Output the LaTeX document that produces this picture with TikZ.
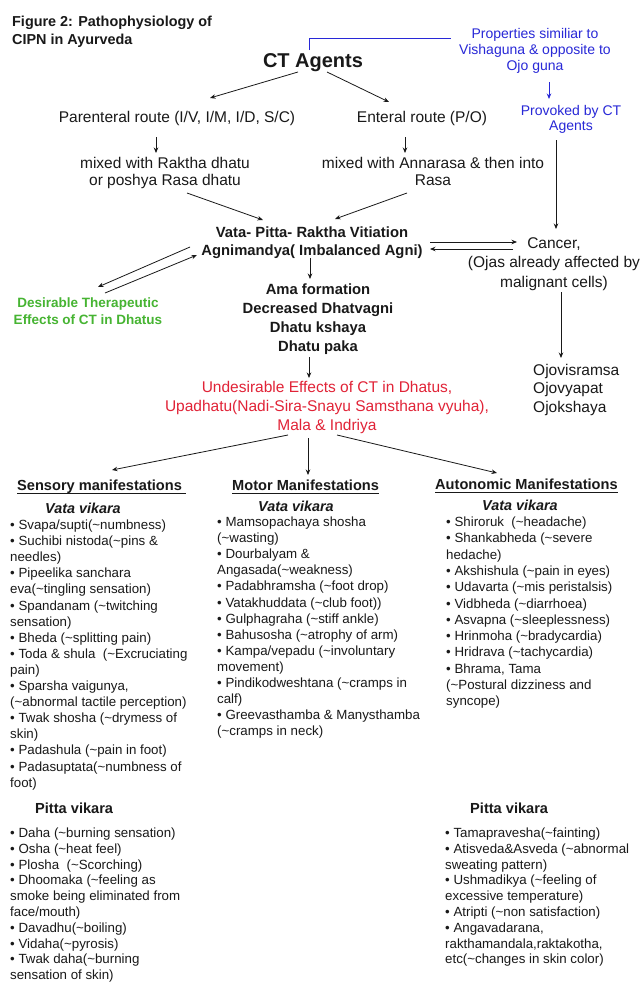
\documentclass[tikz,border=0pt]{standalone}
\usepackage{fontspec}
\setmainfont{Liberation Sans}
\usetikzlibrary{arrows.meta}
\definecolor{bl}{RGB}{40,40,215}
\definecolor{gr}{RGB}{70,180,50}
\definecolor{rd}{RGB}{225,35,55}
\definecolor{ink}{RGB}{25,25,25}
\newcommand{\tl}{\textasciitilde}
\begin{document}
\begin{tikzpicture}[x=1pt,y=-1pt,
  every node/.style={inner sep=0pt, text=ink},
  up/.style={font=\fontsize{15.5}{17}\selectfont, align=center, anchor=base},
  bf/.style={font=\bfseries\fontsize{14.8}{18.5}\selectfont, align=center, anchor=base},
  lst/.style={font=\fontsize{13.3}{16.1}\selectfont, align=left, anchor=base west},
  plst/.style={font=\fontsize{13.3}{15.8}\selectfont, align=left, anchor=base west},
  hd/.style={font=\bfseries\fontsize{14.6}{17}\selectfont, anchor=base west},
  vk/.style={font=\bfseries\itshape\fontsize{14.4}{17}\selectfont, anchor=base west},
  arr/.style={draw=ink, line width=0.8pt, -{Stealth[length=5.5pt,width=4.5pt]}},
  barr/.style={draw=bl, line width=0.8pt, -{Stealth[length=5.5pt,width=4.5pt]}},
  uline/.style={draw=ink, line width=0.8pt},
]
\useasboundingbox (0,0) rectangle (642,985);
\fill[white] (0,0) rectangle (642,985);

% ---------- top part (anchors at baseline of last line) ----------
\node[font=\bfseries\fontsize{14.4}{18}\selectfont, align=left, anchor=base west] (title) at (12,44) {Figure 2: Pathophysiology of\\CIPN in Ayurveda};
\node[font=\bfseries\fontsize{20}{24}\selectfont, anchor=base] (ct) at (313,67) {CT Agents};
\node[up, text=bl, font=\fontsize{14}{16}\selectfont] (prop) at (535,70) {Properties similiar to\\Vishaguna \& opposite to\\Ojo guna};
\node[up, text=bl, font=\fontsize{14}{15}\selectfont] (prov) at (571,130) {Provoked by CT\\Agents};
\node[up] (par) at (177,122) {Parenteral route (I/V, I/M, I/D, S/C)};
\node[up] (ent) at (422,122) {Enteral route (P/O)};
\node[up] (mixr) at (165,185) {mixed with Raktha dhatu\\or poshya Rasa dhatu};
\node[up] (mixa) at (433,185) {mixed with Annarasa \& then into\\Rasa};
\node[bf] (vata) at (312,255.5) {Vata- Pitta- Raktha Vitiation\\Agnimandya( Imbalanced Agni)};
\node[bf, font=\bfseries\fontsize{14.8}{18.7}\selectfont] (ama) at (318,351) {Ama formation\\Decreased Dhatvagni\\Dhatu kshaya\\Dhatu paka};
\node[bf, text=gr, font=\bfseries\fontsize{13.5}{17}\selectfont] (des) at (88,324) {Desirable Therapeutic\\Effects of CT in Dhatus};
\node[up, font=\fontsize{15.5}{19.5}\selectfont] (can) at (554,287) {Cancer,\\(Ojas already affected by\\malignant cells)};
\node[up, align=left, anchor=base west, font=\fontsize{15.5}{18.5}\selectfont] (ojo) at (533,412) {Ojovisramsa\\Ojovyapat\\Ojokshaya};
\node[up, text=rd, font=\fontsize{15.5}{19}\selectfont] (und) at (327,430) {Undesirable Effects of CT in Dhatus,\\Upadhatu(Nadi-Sira-Snayu Samsthana vyuha),\\Mala \& Indriya};

% connector end points
\coordinate (ct-top) at (309,50);
\coordinate (prop-in) at (451,38);
\coordinate (prop-out) at (549,82);
\coordinate (prov-in) at (549,99);
\coordinate (ct-l) at (298,72);
\coordinate (par-in) at (210,98);
\coordinate (ct-r) at (327,72);
\coordinate (ent-in) at (389,102);
\coordinate (par-out) at (156,137);
\coordinate (mixr-in) at (156,153);
\coordinate (ent-out) at (405,137);
\coordinate (mixa-in) at (405,153);
\coordinate (mixr-out) at (187,193);
\coordinate (vata-inl) at (263,220);
\coordinate (mixa-out) at (407,193);
\coordinate (vata-inr) at (335,219);
\coordinate (prov-out) at (556,140);
\coordinate (can-in) at (556,229);
\coordinate (vata-r1) at (430,242);
\coordinate (can-l1) at (517,242);
\coordinate (can-l2) at (513,249);
\coordinate (vata-r2) at (430,249);
\coordinate (vata-l1) at (190,247);
\coordinate (des-1) at (98,287);
\coordinate (des-2) at (105,293);
\coordinate (vata-l2) at (197,255);
\coordinate (vata-out) at (310,258);
\coordinate (ama-in) at (310,279);
\coordinate (ama-out) at (309,357);
\coordinate (und-in) at (309,378);
\coordinate (can-out) at (561,292);
\coordinate (ojo-in) at (561,358);
\coordinate (und-l) at (288,435);
\coordinate (sens-in) at (112,470);
\coordinate (und-m) at (308,438);
\coordinate (mot-in) at (308,475);
\coordinate (und-r) at (337,435);
\coordinate (aut-in) at (497,473);

\draw[draw=bl, line width=0.8pt] (ct-top) |- (prop-in);
\draw[barr] (prop-out) -- (prov-in);
\draw[arr] (ct-l) -- (par-in);
\draw[arr] (ct-r) -- (ent-in);
\draw[arr] (par-out) -- (mixr-in);
\draw[arr] (ent-out) -- (mixa-in);
\draw[arr] (mixr-out) -- (vata-inl);
\draw[arr] (mixa-out) -- (vata-inr);
\draw[arr] (prov-out) -- (can-in);
\draw[arr] (vata-r1) -- (can-l1);
\draw[arr] (can-l2) -- (vata-r2);
\draw[arr] (vata-l1) -- (des-1);
\draw[arr] (des-2) -- (vata-l2);
\draw[arr] (vata-out) -- (ama-in);
\draw[arr] (ama-out) -- (und-in);
\draw[arr] (can-out) -- (ojo-in);
\draw[arr] (und-l) -- (sens-in);
\draw[arr] (und-m) -- (mot-in);
\draw[arr] (und-r) -- (aut-in);

% ---------- headers ----------
\node[hd] (sens) at (17,490) {Sensory manifestations};
\node[hd] (mot) at (232,490) {Motor Manifestations};
\node[hd] (aut) at (435,489) {Autonomic Manifestations};
\draw[uline] ([yshift=-3pt]sens.base west) -- ([yshift=-3pt,xshift=4pt]sens.base east);
\draw[uline] ([yshift=-3pt]mot.base west) -- ([yshift=-3pt]mot.base east);
\draw[uline] ([yshift=-3pt]aut.base west) -- ([yshift=-3pt]aut.base east);

\node[vk] (vk1) at (45,513) {Vata vikara};
\node[vk] (vk2) at (258,511) {Vata vikara};
\node[vk] (vk3) at (482,510) {Vata vikara};

\node[lst] (l1) at (10,787.1) {• Svapa/supti(\tl numbness)\\
• Suchibi nistoda(\tl pins \&\\
needles)\\
• Pipeelika sanchara\\
eva(\tl tingling sensation)\\
• Spandanam (\tl twitching\\
sensation)\\
• Bheda (\tl splitting pain)\\
• Toda \& shula\ \ (\tl Excruciating\\
pain)\\
• Sparsha vaigunya,\\
(\tl abnormal tactile perception)\\
• Twak shosha (\tl drymess of\\
skin)\\
• Padashula (\tl pain in foot)\\
• Padasuptata(\tl numbness of\\
foot)};

\node[lst] (l2) at (217,735.8) {• Mamsopachaya shosha\\
(\tl wasting)\\
• Dourbalyam \&\\
Angasada(\tl weakness)\\
• Padabhramsha (\tl foot drop)\\
• Vatakhuddata (\tl club foot))\\
• Gulphagraha (\tl stiff ankle)\\
• Bahusosha (\tl atrophy of arm)\\
• Kampa/vepadu (\tl involuntary\\
movement)\\
• Pindikodweshtana (\tl cramps in\\
calf)\\
• Greevasthamba \& Manysthamba\\
(\tl cramps in neck)};

\node[lst, font=\fontsize{13.3}{16.3}\selectfont] (l3) at (446,705.8) {• Shiroruk\ \ (\tl headache)\\
• Shankabheda (\tl severe\\
hedache)\\
• Akshishula (\tl pain in eyes)\\
• Udavarta (\tl mis peristalsis)\\
• Vidbheda (\tl diarrhoea)\\
• Asvapna (\tl sleeplessness)\\
• Hrinmoha (\tl bradycardia)\\
• Hridrava (\tl tachycardia)\\
• Bhrama, Tama\\
(\tl Postural dizziness and\\
syncope)};

% ---------- Pitta vikara ----------
\node[hd] (pv1) at (35,813) {Pitta vikara};
\node[hd] (pv2) at (470,813) {Pitta vikara};

\node[plst] (p1) at (10,979.7) {• Daha (\tl burning sensation)\\
• Osha (\tl heat feel)\\
• Plosha\ \ (\tl Scorching)\\
• Dhoomaka (\tl feeling as\\
smoke being eliminated from\\
face/mouth)\\
• Davadhu(\tl boiling)\\
• Vidaha(\tl pyrosis)\\
• Twak daha(\tl burning\\
sensation of skin)};

\node[plst] (p2) at (445,963.9) {• Tamapravesha(\tl fainting)\\
• Atisveda\&Asveda (\tl abnormal\\
sweating pattern)\\
• Ushmadikya (\tl feeling of\\
excessive temperature)\\
• Atripti (\tl non satisfaction)\\
• Angavadarana,\\
rakthamandala,raktakotha,\\
etc(\tl changes in skin color)};
\end{tikzpicture}
\end{document}
